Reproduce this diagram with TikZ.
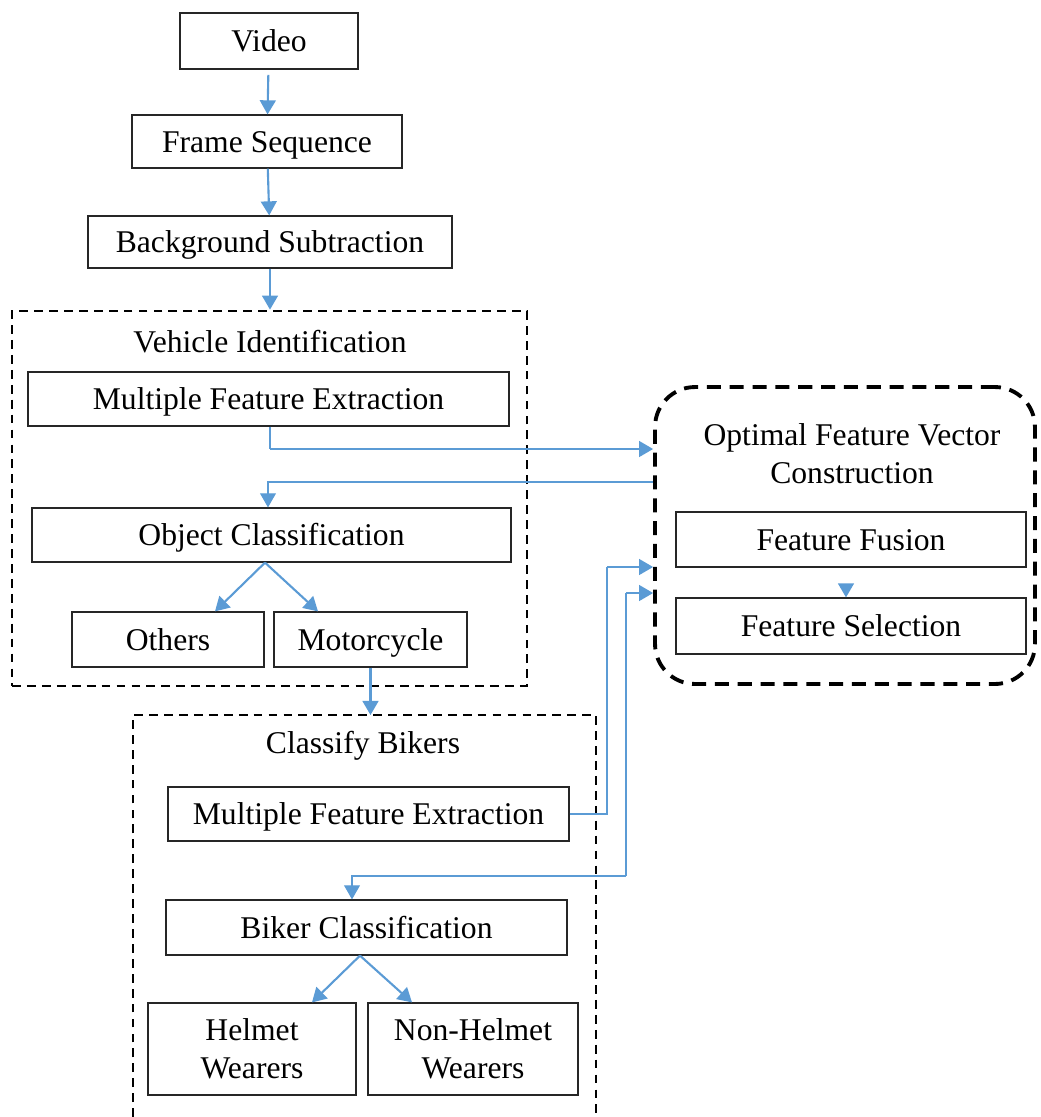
\documentclass[tikz,border=0pt]{standalone}
\usepackage{fontspec}
\setmainfont{Liberation Serif}
\usepackage{tikz}
\usetikzlibrary{arrows.meta, positioning, calc}
\definecolor{flowblue}{RGB}{91,155,213}

\begin{document}
\begin{tikzpicture}[x=0.02cm, y=-0.02cm,
    stagebox/.style={rectangle, draw=black!85, line width=0.7pt, fill=white, align=center, inner sep=0pt, font=\fontsize{18}{21.5}\selectfont},
    oneline/.style={stagebox, text height=14pt, text depth=2pt},
    groupbox/.style={rectangle, draw=black, line width=1.6pt, dash pattern=on 5pt off 3.5pt, inner sep=0pt},
    grouptitle/.style={align=center, font=\fontsize{18}{21.5}\selectfont},
    arrow/.style={-{Triangle[length=8pt, width=9pt]}, draw=flowblue, line width=1.2pt},
    thinarrow/.style={-{Triangle[length=8pt, width=9pt]}, draw=flowblue, line width=0.7pt},
    thinline/.style={draw=flowblue, line width=0.7pt}
]
\useasboundingbox (0,0) rectangle (1041,1117);

% groups
\node[groupbox, minimum width=10.3cm, minimum height=7.5cm] (vehicle) at (269.5,498.5) {};
\node[grouptitle] (vehicletitle) at (270,342) {Vehicle Identification};
\node[groupbox, line width=2.2pt, dash pattern=on 8pt off 5pt, rounded corners=0.8cm, minimum width=7.6cm, minimum height=5.94cm] (opt) at (845,535.5) {};
\node[grouptitle] (opttitle) at (852,454) {Optimal Feature Vector\\Construction};
\draw[line width=1.6pt, dash pattern=on 5pt off 3.5pt] (133,1117) |- (596,715) coordinate (bikerscorner) -- (596,1117);
\coordinate (bikers) at (364.5,715);
\node[grouptitle] (bikerstitle) at (363,746) {Classify Bikers};

% stages
\node[oneline, minimum width=3.56cm, minimum height=1.12cm] (video) at (269,41) {Video};
\node[oneline, minimum width=5.4cm, minimum height=1.06cm] (frames) at (267,141.5) {Frame Sequence};
\node[oneline, minimum width=7.28cm, minimum height=1.04cm] (bgsub) at (270,242) {Background Subtraction};
\node[oneline, minimum width=9.62cm, minimum height=1.08cm] (mfeone) at (268.5,399) {Multiple Feature Extraction};
\node[oneline, minimum width=9.58cm, minimum height=1.08cm] (objcls) at (271.5,535) {Object Classification};
\node[oneline, minimum width=3.84cm, minimum height=1.1cm] (others) at (168,639.5) {Others};
\node[oneline, minimum width=3.86cm, minimum height=1.1cm] (motor) at (370.5,639.5) {Motorcycle};
\node[oneline, minimum width=7.0cm, minimum height=1.1cm] (fusion) at (851,539.5) {Feature Fusion};
\node[oneline, minimum width=7.0cm, minimum height=1.12cm] (select) at (851,626) {Feature Selection};
\node[oneline, minimum width=8.02cm, minimum height=1.08cm] (mfetwo) at (368.5,814) {Multiple Feature Extraction};
\node[oneline, minimum width=8.02cm, minimum height=1.1cm] (bikcls) at (366.5,927.5) {Biker Classification};
\node[stagebox, minimum width=4.16cm, minimum height=1.84cm] (helmet) at (252,1049) {Helmet\\Wearers};
\node[stagebox, minimum width=4.2cm, minimum height=1.84cm] (nohelmet) at (473,1049) {Non-Helmet\\Wearers};

% bends
\coordinate (bendone) at (270,449);
\coordinate (bendtwo) at (607,567);
\coordinate (bendthree) at (626,593);
\coordinate (bendfour) at (626,876);

% connectors
\draw[arrow, shorten <=3pt] (video) -- (frames);
\draw[arrow] (frames) -- (bgsub);
\draw[arrow] (bgsub) -- (bgsub.south |- vehicle.north);
\draw[thinline] (mfeone.south -| bendone) -- (bendone);
\draw[arrow] (bendone) -- (opt.west |- bendone);
\draw[thinarrow] (opt.west |- 0,482) -| ([xshift=-0.07cm]objcls.north);
\draw[arrow] ([xshift=-0.13cm]objcls.south) -- ([xshift=0.94cm]others.north);
\draw[arrow] ([xshift=-0.13cm]objcls.south) -- ([xshift=-1.05cm]motor.north);
\draw[arrow] (motor) -- (motor.south |- bikers);
\draw[thinline] (mfetwo.east) -| (bendtwo);
\draw[arrow] (bendtwo) -- (opt.west |- bendtwo);
\draw[arrow] (bendthree) -- (opt.west |- bendthree);
\draw[thinline] (bendthree) -- (bendfour);
\draw[thinarrow] (bendfour) -| ([xshift=-0.29cm]bikcls.north);
\draw[arrow, shorten <=10pt] ([xshift=-0.1cm]fusion.south) -- ([xshift=-0.1cm]select.north);
\draw[arrow] ([xshift=-0.13cm]bikcls.south) -- ([xshift=1.2cm]helmet.north);
\draw[arrow] ([xshift=-0.13cm]bikcls.south) -- ([xshift=-1.22cm]nohelmet.north);
\end{tikzpicture}
\end{document}
